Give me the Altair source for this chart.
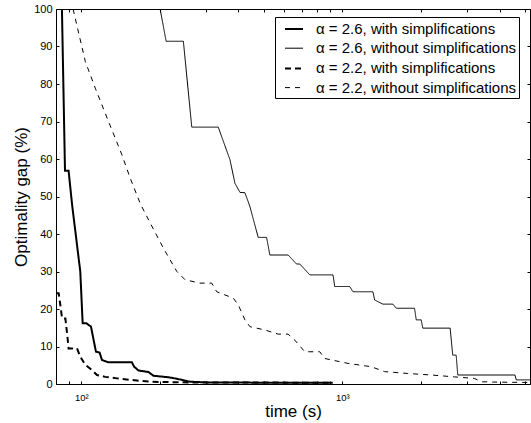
import altair as alt
import pandas as pd

series_names = [
    "α = 2.6, with simplifications",
    "α = 2.6, without simplifications",
    "α = 2.2, with simplifications",
    "α = 2.2, without simplifications",
]

time_26_with = [84.3, 86.6, 89.4, 92.2, 99.1, 101.2, 104.5, 108.9, 113.8, 117.5, 120.0, 126.8,
                156.2, 159.4, 165.6, 180.8, 188.9, 215.7, 232.2, 260.9, 311, 918]
gap_26_with = [100, 56.9, 56.9, 47.8, 30.0, 16.2, 16.2, 15.3, 8.6, 8.4, 6.4, 5.8,
               5.8, 4.6, 3.6, 3.2, 2.2, 1.8, 1.4, 0.6, 0.4, 0.3]

time_26_without = [200.4, 211.3, 246.0, 264.9, 334.6, 371.0, 387.7, 405.2, 423.4, 442.4, 475.9,
                   512.4, 527.5, 619.6, 667.2, 686.9, 749.9, 920.6, 934.6, 1066, 1098, 1309,
                   1329, 1429, 1561, 1608, 1889, 1918, 2004, 2032, 2586, 2646, 2727, 2766,
                   4581, 4634, 5230]
gap_26_without = [100, 91.4, 91.4, 68.5, 68.5, 59.8, 53.5, 51.1, 51.0, 47.3, 39.1,
                  39.1, 34.4, 34.4, 32.0, 32.0, 29.1, 29.1, 26.0, 26.0, 24.6, 24.6,
                  22.4, 21.3, 21.3, 20.2, 20.2, 17.1, 17.1, 14.9, 14.9, 7.7, 7.7, 2.4,
                  2.4, 1.1, 1.1]

time_22_with = [80, 81.9, 83.2, 84.4, 86.9, 88.2, 89.4, 96.3, 99.1, 103.6, 109.9, 114.8,
                123.5, 136.9, 153.9, 183.5, 260.9, 918]
gap_22_with = [24.2, 24.2, 20.8, 17.5, 17.5, 13.5, 9.5, 9.5, 7.3, 5.1, 3.7, 2.4,
               1.9, 1.5, 1.1, 0.6, 0.4, 0.35]

time_22_without = [93.0, 103.6, 113.1, 127.1, 143.1, 153.9, 168.0, 175.7, 206.3, 232.2, 249.7,
                   284.9, 315.9, 330.1, 381.9, 399.1, 423.4, 442.4, 504.9, 567.5, 619.6,
                   657.3, 717.8, 819.0, 855.8, 1050, 1291, 1451, 1781, 2189, 2686, 3203,
                   3397, 3932, 5230]
gap_22_without = [100, 86.0, 78.9, 70.0, 61.1, 54.9, 48.2, 45.5, 36.2, 30.0, 27.8,
                  26.9, 26.9, 24.6, 22.9, 21.1, 17.1, 15.3, 14.4, 13.3, 13.3,
                  11.7, 8.6, 8.6, 6.8, 5.5, 4.6, 3.3, 2.8, 2.4, 1.9, 1.5,
                  0.6, 0.5, 0.4]

line_widths = [2, 1, 2, 1]
line_dashes = [[1, 0], [1, 0], [6, 4], [5, 5]]

x_ticks = [80, 90, 100, 200, 300, 400, 500, 600, 700, 800, 900, 1000, 2000, 3000, 4000, 5000]
y_ticks = [0, 10, 20, 30, 40, 50, 60, 70, 80, 90, 100]

rows = []
for name, ts, gs in zip(series_names,
                        [time_26_with, time_26_without, time_22_with, time_22_without],
                        [gap_26_with, gap_26_without, gap_22_with, gap_22_without]):
    for i, (t, g) in enumerate(zip(ts, gs)):
        rows.append({"series": name, "time": t, "gap": g, "idx": i})
df = pd.DataFrame(rows)

FONT = "Liberation Sans"
x_scale = alt.Scale(type="log", domain=[80, 5230], nice=False)
y_scale = alt.Scale(domain=[0, 100], nice=False, zero=False)

leg = alt.Legend(title=None)

lines = alt.Chart(df).mark_line(clip=True).encode(
    x=alt.X("time:Q", scale=x_scale,
            axis=alt.Axis(orient="bottom", values=x_ticks,
                          labelExpr="datum.value == 100 ? '10²' : (datum.value == 1000 ? '10³' : '')",
                          title="time (s)", tickSize=3, offset=-3, domain=False, grid=False,
                          labelPadding=8, labelFontSize=9.5, labelOverlap=False, labelFlush=False,
                          titlePadding=2)),
    y=alt.Y("gap:Q", scale=y_scale,
            axis=alt.Axis(orient="left", values=y_ticks, title="Optimality gap (%)",
                          tickSize=3, offset=-3, domain=False, grid=False,
                          labelPadding=4, labelFontSize=11, labelFlush=False,
                          titlePadding=3)),
    color=alt.Color("series:N", scale=alt.Scale(domain=series_names, range=["black"] * 4), legend=leg),
    strokeDash=alt.StrokeDash("series:N",
                              scale=alt.Scale(type="ordinal", domain=series_names, range=line_dashes),
                              legend=leg),
    strokeWidth=alt.StrokeWidth("series:N",
                                scale=alt.Scale(type="ordinal", domain=series_names, range=line_widths),
                                legend=leg),
    order="idx:Q",
)

ticks = alt.Chart(df).mark_line(opacity=0).encode(
    x=alt.X("time:Q", scale=x_scale,
            axis=alt.Axis(orient="top", values=x_ticks, labels=False, domain=False, grid=False,
                          tickSize=3, offset=-3, title=None)),
    y=alt.Y("gap:Q", scale=y_scale,
            axis=alt.Axis(orient="right", values=y_ticks, labels=False, domain=False, grid=False,
                          tickSize=3, offset=-3, title=None)),
    detail="series:N",
    order="idx:Q",
)

chart = alt.layer(lines, ticks).resolve_axis(
    x="independent", y="independent"
).properties(
    width=474, height=375,
    autosize=alt.AutoSizeParams(type="none"),
    padding={"left": 56, "top": 9, "right": 1, "bottom": 39},
).configure_view(
    stroke="black", strokeWidth=1
).configure_axis(
    labelFont=FONT, titleFont=FONT, labelColor="black", titleColor="black",
    tickColor="black", tickWidth=1, titleFontWeight="normal", titleFontSize=17,
).configure_legend(
    orient="none", legendX=219, legendY=8,
    strokeColor="black", fillColor="white", padding=2, cornerRadius=0,
    labelFont=FONT, labelFontSize=15, labelColor="black", labelLimit=0,
    symbolType="stroke", symbolSize=324, labelOffset=12, rowPadding=1.7, symbolOffset=7,
)

chart.save("out.html", embed_options={"renderer": "svg", "actions": False})
